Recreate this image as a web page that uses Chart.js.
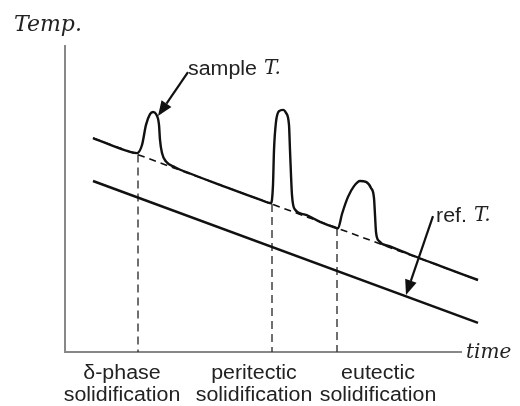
<!DOCTYPE html>
<html>
<head>
<meta charset="utf-8">
<script src="https://cdn.jsdelivr.net/npm/chart.js@4.4.1/dist/chart.umd.min.js"></script>
<style>
  html, body { margin: 0; padding: 0; background: #fff; }
</style>
</head>
<body>
<canvas id="dta" width="520" height="406"></canvas>
<script>
// time / temperature in arbitrary units
const sampleTime = [7, 16.25, 18, 19.25, 20.25, 21.25, 22, 22.75, 23.5, 23.75, 24.25, 25.25, 27.5, 31.25, 38.75,
  48.75, 51.5, 52, 52.25, 52.75, 53.5, 54.5, 55.25, 56, 56.25, 56.75, 57.5, 60, 63.75, 67.5,
  68.25, 69.25, 70.75, 72.25, 73.75, 75.25, 76.5, 77.25, 77.5, 77.75, 78.5, 81.25, 86.25, 93.75, 103.25];
const sampleTemp = [71.3, 66.7, 66.3, 69, 75.7, 79.3, 80, 79.3, 75.7, 70.7, 66.3, 63.5, 61.6, 59.5, 55.7,
  50.8, 49.6, 55.7, 67.3, 76.7, 80.3, 80.7, 79.7, 75.7, 67.3, 52.3, 47.5, 45.8, 43.4, 41.5,
  41.2, 46, 51.7, 55.3, 57, 56.7, 54.7, 51.3, 45.7, 40, 37, 35.2, 32.5, 28.7, 24];
const baseTime = [7, 103.25];
const baseTemp = [71.3, 24];
const refTime = [7, 103.25];
const refTemp = [57, 9.7];
const eventTime = [18.25, 51.75, 68];
const eventTemp = [65.8, 49.3, 41.3];
const eventLabels = [['δ-phase', 'solidification'], ['peritectic', 'solidification'], ['eutectic', 'solidification']];
const eventLabelTime = [14.25, 47.25, 78.25];
const axisEnd = { time: 99.25, temp: 102.3 };
// arrows: [fromTime, fromTemp, toTime, toTemp]
const sampleArrow = [30.75, 93.3, 23.25, 78.7];
const refArrow = [92, 45.3, 85.25, 19];

const pts = (xs, ys) => xs.map((x, i) => ({ x, y: ys[i] }));
const INK = '#111';

const datasets = [
  { data: pts(baseTime, baseTemp), borderColor: INK, borderWidth: 1.6, borderDash: [7, 5] },
  { data: pts(refTime, refTemp), borderColor: INK, borderWidth: 2.4 },
  { data: pts(sampleTime, sampleTemp), borderColor: INK, borderWidth: 2.4, cubicInterpolationMode: 'monotone' }
];
eventTime.forEach((t, i) => {
  datasets.push({ data: [{ x: t, y: eventTemp[i] }, { x: t, y: 0 }], borderColor: '#333', borderWidth: 1.4, borderDash: [8, 5] });
});

function stretchText(ctx, str, x, y, font, align) {
  ctx.save();
  ctx.translate(x, y);
  ctx.scale(1.07, 1);
  ctx.font = font;
  ctx.textAlign = align;
  ctx.textBaseline = 'middle';
  ctx.fillText(str, 0, 0);
  const w = ctx.measureText(str).width * 1.07;
  ctx.restore();
  return w;
}

function arrow(ctx, xs, ys, a) {
  const x0 = xs.getPixelForValue(a[0]), y0 = ys.getPixelForValue(a[1]);
  const x1 = xs.getPixelForValue(a[2]), y1 = ys.getPixelForValue(a[3]);
  const ang = Math.atan2(y1 - y0, x1 - x0);
  const len = 15, half = 6;
  const bx = x1 - len * Math.cos(ang), by = y1 - len * Math.sin(ang);
  ctx.save();
  ctx.strokeStyle = INK;
  ctx.fillStyle = INK;
  ctx.lineWidth = 2.2;
  ctx.beginPath();
  ctx.moveTo(x0, y0);
  ctx.lineTo(bx, by);
  ctx.stroke();
  ctx.beginPath();
  ctx.moveTo(x1, y1);
  ctx.lineTo(bx + half * Math.sin(ang), by - half * Math.cos(ang));
  ctx.lineTo(bx - half * Math.sin(ang), by + half * Math.cos(ang));
  ctx.closePath();
  ctx.fill();
  ctx.restore();
}

const sketchPlugin = {
  id: 'sketch',
  beforeDatasetsDraw(chart) {
    const { ctx, scales: { x, y } } = chart;
    ctx.save();
    ctx.strokeStyle = '#888';
    ctx.lineWidth = 2;
    ctx.beginPath();
    ctx.moveTo(x.getPixelForValue(0), y.getPixelForValue(axisEnd.temp));
    ctx.lineTo(x.getPixelForValue(0), y.getPixelForValue(0));
    ctx.lineTo(x.getPixelForValue(axisEnd.time), y.getPixelForValue(0));
    ctx.stroke();
    ctx.restore();
  },
  afterDatasetsDraw(chart) {
    const { ctx, scales: { x, y } } = chart;
    const y0 = y.getPixelForValue(0);
    ctx.save();
    ctx.fillStyle = '#222';
    ctx.font = 'italic 22px "DejaVu Serif"';
    ctx.textBaseline = 'alphabetic';
    ctx.textAlign = 'left';
    ctx.fillText('Temp.', 14, 31);
    ctx.font = 'italic 20px "DejaVu Serif"';
    ctx.textBaseline = 'middle';
    ctx.fillText('time', x.getPixelForValue(axisEnd.time) + 4, y0 + 1);

    eventLabels.forEach((lines, i) => {
      const cx = x.getPixelForValue(eventLabelTime[i]);
      stretchText(ctx, lines[0], cx, y0 + 21, '20px "Liberation Sans"', 'center');
      stretchText(ctx, lines[1], cx, y0 + 43, '20px "Liberation Sans"', 'center');
    });

    const sx = x.getPixelForValue(sampleArrow[0]), sy = y.getPixelForValue(sampleArrow[1]);
    let w = stretchText(ctx, 'sample', sx, sy - 3, '20px "Liberation Sans"', 'left');
    ctx.font = 'italic 20px "DejaVu Serif"';
    ctx.textAlign = 'left';
    ctx.fillText('T.', sx + w + 7, sy - 3);

    const rx = x.getPixelForValue(refArrow[0]), ry = y.getPixelForValue(refArrow[1]);
    w = stretchText(ctx, 'ref.', rx + 3, ry, '20px "Liberation Sans"', 'left');
    ctx.font = 'italic 20px "DejaVu Serif"';
    ctx.textAlign = 'left';
    ctx.fillText('T.', rx + 3 + w + 7, ry);
    ctx.restore();

    arrow(ctx, x, y, sampleArrow);
    arrow(ctx, x, y, refArrow);
  }
};

new Chart(document.getElementById('dta'), {
  type: 'line',
  data: { datasets },
  options: {
    responsive: false,
    animation: false,
    layout: { padding: { left: 65, right: 35, top: 43, bottom: 54 } },
    elements: { point: { radius: 0 }, line: { fill: false } },
    datasets: { line: { clip: false } },
    plugins: { legend: { display: false }, tooltip: { enabled: false } },
    scales: {
      x: { type: 'linear', min: 0, max: 105, display: false },
      y: { type: 'linear', min: 0, max: 103, display: false }
    }
  },
  plugins: [sketchPlugin]
});
</script>
</body>
</html>
